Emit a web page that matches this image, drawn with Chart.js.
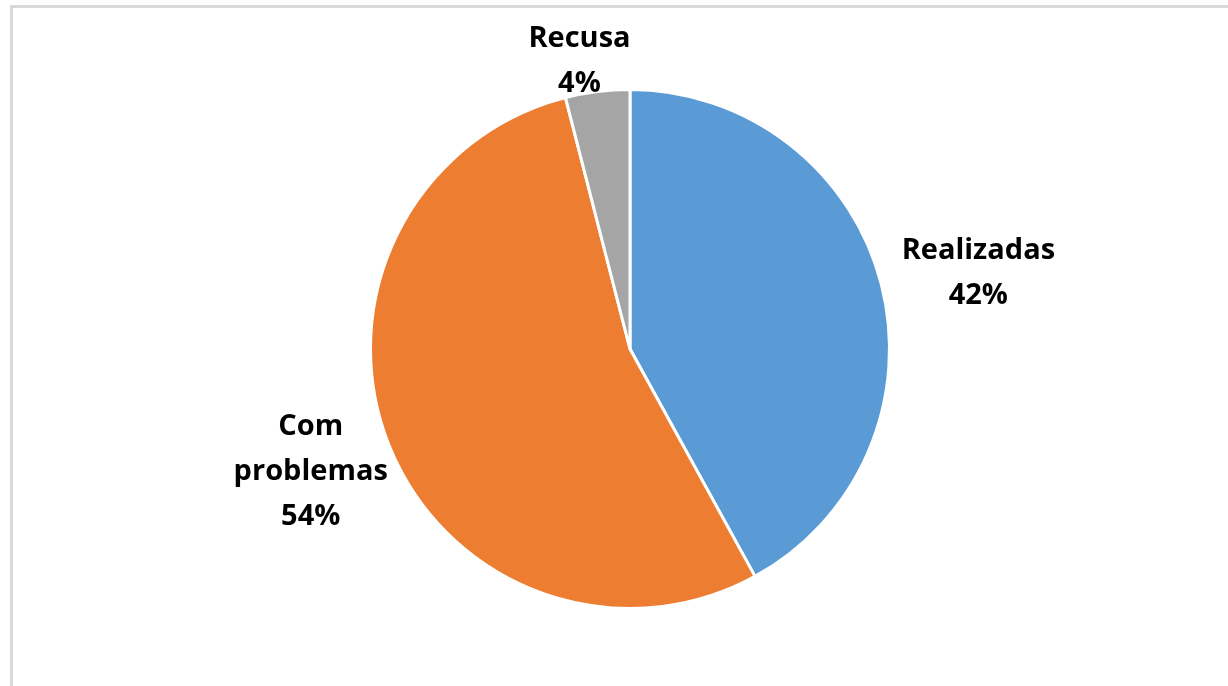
<!DOCTYPE html>
<html lang="pt">
<head>
<meta charset="UTF-8">
<title>Pizza</title>
<script src="https://cdn.jsdelivr.net/npm/chart.js@4.4.0/dist/chart.umd.min.js"></script>
<style>
    html, body {
        margin: 0;
        padding: 0;
        background: #fff;
        overflow: hidden;
    }
    .frame {
        position: absolute;
        left: 10px;
        top: 5px;
        width: 1240px;
        height: 700px;
        border-left: 3px solid #d9d9d9;
        border-top: 3px solid #d9d9d9;
    }
    .wrap {
        position: absolute;
        left: 0;
        top: 0;
        width: 1228px;
        height: 686px;
    }
</style>
</head>
<body>
<div class="frame"></div>
<div class="wrap"><canvas id="pizza"></canvas></div>
<script>
// dados
const categorias = ['Realizadas', 'Com problemas', 'Recusa'];
const rotulos = [['Realizadas'], ['Com', 'problemas'], ['Recusa']];
const valores = [42, 54, 4];
const cores = ['#5b9bd5', '#ed7d31', '#a5a5a5'];

// rótulos fora da pizza (nome + %), posicionados a partir da borda da fatia
const rotulosPlugin = {
    id: 'rotulos',
    afterDatasetsDraw(chart, args, opts) {
        const ctx = chart.ctx;
        const meta = chart.getDatasetMeta(0);
        const total = valores.reduce((a, b) => a + b, 0);
        ctx.save();
        ctx.font = opts.font;
        ctx.fillStyle = '#000';
        ctx.textAlign = 'center';
        ctx.textBaseline = 'middle';
        meta.data.forEach((arc, i) => {
            const ang = (arc.startAngle + arc.endAngle) / 2;
            const ex = arc.x + Math.cos(ang) * arc.outerRadius;
            const ey = arc.y + Math.sin(ang) * arc.outerRadius;
            const off = opts.offsets[i];
            const linhas = rotulos[i].concat([Math.round(valores[i] / total * 100) + '%']);
            const cx = ex + off[0];
            const cy = ey + off[1];
            const y0 = cy - (linhas.length - 1) * opts.lineHeight / 2;
            linhas.forEach((t, k) => ctx.fillText(t, cx, y0 + k * opts.lineHeight));
        });
        ctx.restore();
    }
};

new Chart(document.getElementById('pizza'), {
    type: 'pie',
    data: {
        labels: categorias,
        datasets: [{
            data: valores,
            backgroundColor: cores,
            borderColor: '#ffffff',
            borderWidth: 3
        }]
    },
    options: {
        responsive: true,
        maintainAspectRatio: false,
        animation: false,
        layout: {
            padding: { top: 88, bottom: 76, left: 32, right: 0 }
        },
        plugins: {
            legend: { display: false },
            tooltip: { enabled: false },
            rotulos: {
                font: 'bold 29px "Open Sans"',
                lineHeight: 45,
                offsets: [[97, -11], [-78, 27], [-18, -30]]
            }
        }
    },
    plugins: [rotulosPlugin]
});
</script>
</body>
</html>
